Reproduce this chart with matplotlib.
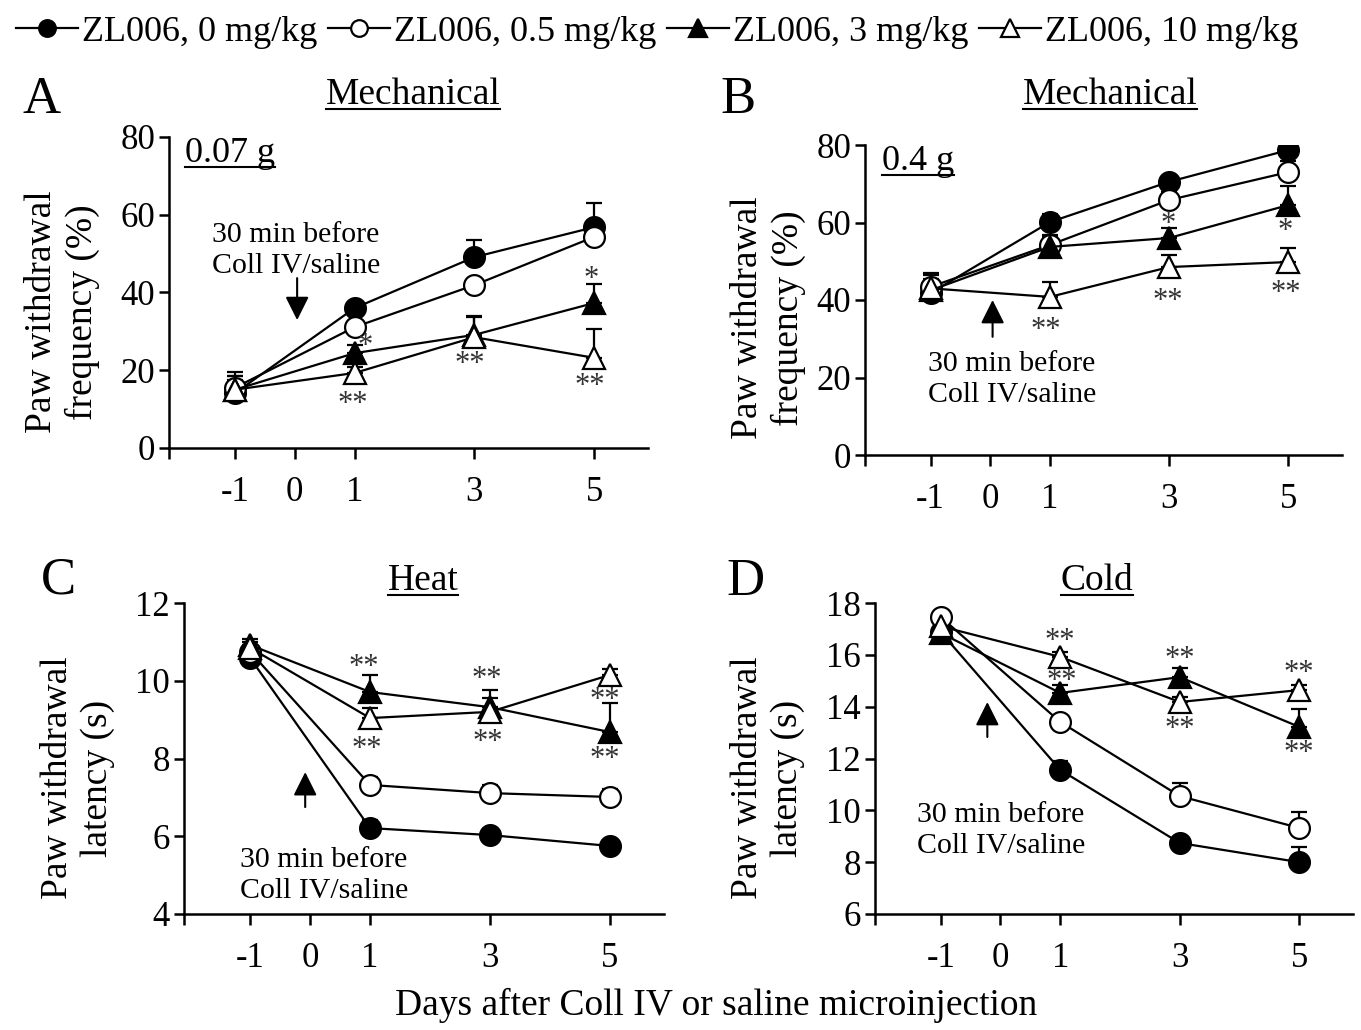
import matplotlib
matplotlib.use('Agg')
import matplotlib.pyplot as plt
from matplotlib.lines import Line2D

plt.rcParams['font.family'] = ['Liberation Serif', 'DejaVu Serif']

W, H = 1361, 1030

# ---------------- data ----------------
days = [-1, 1, 3, 5]
group_labels = ['ZL006, 0 mg/kg', 'ZL006, 0.5 mg/kg', 'ZL006, 3 mg/kg', 'ZL006, 10 mg/kg']
xtick_vals = [-1, 0, 1, 3, 5]
xtick_labels = ['-1', '0', '1', '3', '5']

# Panel A: Mechanical 0.07 g (%)
a_0 = [14.1, 36.0, 49.1, 56.8]
a_05 = [15.5, 31.1, 41.9, 54.3]
a_3 = [15.0, 24.4, 29.1, 37.3]
a_10 = [15.0, 19.3, 28.5, 23.2]
a_0_err = [3.5, 1.5, 4.4, 6.2]
a_05_err = [3.0, 1.5, 1.5, 1.5]
a_3_err = [3.5, 2.0, 4.5, 5.0]
a_10_err = [4.5, 1.5, 5.5, 7.4]

# Panel B: Mechanical 0.4 g (%)
b_0 = [41.8, 60.1, 70.5, 78.7]
b_05 = [43.4, 54.2, 65.8, 73.0]
b_3 = [42.5, 53.7, 56.0, 64.5]
b_10 = [43.0, 40.8, 48.5, 49.8]
b_0_err = [2.0, 2.0, 1.5, 2.0]
b_05_err = [3.0, 2.5, 2.0, 3.0]
b_3_err = [3.0, 2.5, 2.6, 5.0]
b_10_err = [4.0, 3.8, 3.0, 3.5]

# Panel C: Heat latency (s)
c_0 = [10.59, 6.21, 6.03, 5.75]
c_05 = [10.75, 7.32, 7.11, 7.01]
c_3 = [10.92, 9.71, 9.32, 8.68]
c_10 = [10.85, 9.04, 9.20, 10.15]
c_0_err = [0.15, 0.2, 0.15, 0.1]
c_05_err = [0.15, 0.2, 0.2, 0.2]
c_3_err = [0.15, 0.45, 0.45, 0.75]
c_10_err = [0.15, 0.25, 0.35, 0.15]

# Panel D: Cold latency (s)
d_0 = [16.88, 11.56, 8.74, 8.00]
d_05 = [17.46, 13.41, 10.55, 9.32]
d_3 = [16.84, 14.53, 15.14, 13.22]
d_10 = [17.10, 15.92, 14.18, 14.64]
d_0_err = [0.2, 0.35, 0.15, 0.6]
d_05_err = [0.2, 0.2, 0.5, 0.6]
d_3_err = [0.2, 0.3, 0.35, 0.7]
d_10_err = [0.2, 0.2, 0.2, 0.2]

# significance marks (day, y, text)
a_stars = [(1.18, 27.8, '*'), (0.97, 12.9, '**'), (2.92, 23.2, '**'), (4.95, 45.0, '*'), (4.93, 17.5, '**')]
b_stars = [(0.93, 34.0, '**'), (2.99, 61.2, '*'), (2.98, 41.3, '**'), (4.95, 59.4, '*'), (4.95, 43.4, '**')]
c_stars = [(0.89, 10.53, '**'), (0.94, 8.42, '**'), (2.94, 10.2, '**'), (2.96, 8.6, '**'), (4.92, 9.68, '**'), (4.92, 8.14, '**')]
d_stars = [(1.0, 16.77, '**'), (1.02, 15.22, '**'), (3.0, 16.07, '**'), (3.0, 13.37, '**'), (5.0, 15.53, '**'), (5.0, 12.44, '**')]

# ---------------- styling ----------------
styles = [
    dict(marker='o', mfc='black', mec='black', ms=15),
    dict(marker='o', mfc='white', mec='black', ms=15),
    dict(marker='^', mfc='black', mec='black', ms=16),
    dict(marker='^', mfc='white', mec='black', ms=16),
]

TICK_FS = 25
LABEL_FS = 27
NOTE_FS = 21.5
STAR_FS = 22

fig = plt.figure(figsize=(W / 100, H / 100), dpi=100)


def px_rect(x0, x1, ytop, ybot):
    return [x0 / W, 1 - ybot / H, (x1 - x0) / W, (ybot - ytop) / H]


def setup_axis(ax, ylim, yticks):
    ax.set_xlim(-2.1, 5.9)
    ax.set_ylim(*ylim)
    for s in ['top', 'right']:
        ax.spines[s].set_visible(False)
    for s in ['left', 'bottom']:
        ax.spines[s].set_linewidth(1.8)
    ax.set_xticks([-2.1] + xtick_vals)
    ax.set_xticklabels([''] + xtick_labels)
    ax.set_yticks(yticks)
    ax.set_yticklabels([str(v) for v in yticks])
    ax.tick_params(axis='x', direction='out', length=8, width=1.8, pad=12, labelsize=TICK_FS)
    ax.tick_params(axis='y', direction='out', length=7, width=1.8, pad=3, labelsize=TICK_FS)
    ax.patch.set_visible(False)


def draw_series(ax, series, errs):
    for vals, err, st in zip(series, errs, styles):
        ax.errorbar(days, vals, yerr=[[0] * len(err), err], color='black', lw=1.6,
                    elinewidth=1.6, capsize=6, capthick=1.6, mew=1.6, zorder=3, **st)


def draw_stars(ax, stars):
    for x, y, t in stars:
        ax.annotate(t, xy=(x, y), xytext=(0, -0.47 * STAR_FS), textcoords='offset points',
                    ha='center', va='baseline', fontsize=STAR_FS, color='#333333', zorder=5)


def draw_arrow(ax, x, y_tail, y_tip):
    ax.annotate('', xy=(x, y_tip), xytext=(x, y_tail),
                arrowprops=dict(arrowstyle='-|>,head_length=0.72,head_width=0.36',
                                mutation_scale=20, color='black', lw=1.5,
                                shrinkA=0, shrinkB=0), zorder=4)


axA = fig.add_axes(px_rect(169, 648, 137, 448))
axB = fig.add_axes(px_rect(865, 1342, 145, 455))
axC = fig.add_axes(px_rect(184, 664, 603, 914))
axD = fig.add_axes(px_rect(875, 1353, 603, 914))

setup_axis(axA, (0, 80), [0, 20, 40, 60, 80])
setup_axis(axB, (0, 80), [0, 20, 40, 60, 80])
setup_axis(axC, (4, 12), [4, 6, 8, 10, 12])
setup_axis(axD, (6, 18), [6, 8, 10, 12, 14, 16, 18])

draw_series(axA, [a_0, a_05, a_3, a_10], [a_0_err, a_05_err, a_3_err, a_10_err])
draw_series(axB, [b_0, b_05, b_3, b_10], [b_0_err, b_05_err, b_3_err, b_10_err])
draw_series(axC, [c_0, c_05, c_3, c_10], [c_0_err, c_05_err, c_3_err, c_10_err])
draw_series(axD, [d_0, d_05, d_3, d_10], [d_0_err, d_05_err, d_3_err, d_10_err])

draw_stars(axA, a_stars)
draw_stars(axB, b_stars)
draw_stars(axC, c_stars)
draw_stars(axD, d_stars)

draw_arrow(axA, 0.04, 43.7, 32.9)
draw_arrow(axB, 0.04, 30.5, 40.0)
draw_arrow(axC, -0.08, 6.75, 7.65)
draw_arrow(axD, -0.22, 12.83, 14.18)

note = '30 min before\nColl IV/saline'
axA.text(-1.39, 50.9, note, ha='left', va='center', fontsize=NOTE_FS, linespacing=1.25, zorder=6)
axB.text(-1.05, 19.6, note, ha='left', va='center', fontsize=NOTE_FS, linespacing=1.25, zorder=6)
axC.text(-1.17, 4.99, note, ha='left', va='center', fontsize=NOTE_FS, linespacing=1.25, zorder=6)
axD.text(-1.39, 9.24, note, ha='left', va='center', fontsize=NOTE_FS, linespacing=1.25, zorder=6)

underlined = []


def ftext(xpx, ypx, s, **kw):
    return fig.text(xpx / W, 1 - ypx / H, s, **kw)


# force-strength labels (baseline placed)
underlined.append((ftext(185, 162, '0.07 g', ha='left', va='baseline', fontsize=26), 162))
underlined.append((ftext(882, 170, '0.4 g', ha='left', va='baseline', fontsize=26), 170))

# panel titles
underlined.append((ftext(413, 104, 'Mechanical', ha='center', va='baseline', fontsize=LABEL_FS), 104))
underlined.append((ftext(1110, 104, 'Mechanical', ha='center', va='baseline', fontsize=LABEL_FS), 104))
underlined.append((ftext(423, 590, 'Heat', ha='center', va='baseline', fontsize=LABEL_FS), 590))
underlined.append((ftext(1097, 590, 'Cold', ha='center', va='baseline', fontsize=LABEL_FS), 590))

# panel letters
ftext(42, 100, 'A', ha='center', va='center', fontsize=38)
ftext(738, 100, 'B', ha='center', va='center', fontsize=38)
ftext(58, 580, 'C', ha='center', va='center', fontsize=38)
ftext(745, 582, 'D', ha='center', va='center', fontsize=38)

# y labels
ftext(62, 312, 'Paw withdrawal\nfrequency (%)', ha='center', va='center', rotation=90,
      fontsize=LABEL_FS, multialignment='center', linespacing=1.2)
ftext(768, 318, 'Paw withdrawal\nfrequency (%)', ha='center', va='center', rotation=90,
      fontsize=LABEL_FS, multialignment='center', linespacing=1.2)
ftext(78, 778, 'Paw withdrawal\nlatency (s)', ha='center', va='center', rotation=90,
      fontsize=LABEL_FS, multialignment='center', linespacing=1.2)
ftext(768, 778, 'Paw withdrawal\nlatency (s)', ha='center', va='center', rotation=90,
      fontsize=LABEL_FS, multialignment='center', linespacing=1.2)

# common x label
ftext(716, 1005, 'Days after Coll IV or saline microinjection', ha='center', va='center', fontsize=LABEL_FS)

# legend
leg_handles = [Line2D([0], [0], color='black', lw=1.6, mew=1.6,
                      **dict(st, ms=st['ms'] - 3)) for st in styles]
fig.legend(leg_handles, group_labels, loc='center', bbox_to_anchor=(0.483, 1 - 32 / H),
           ncol=4, frameon=False, fontsize=26, handlelength=1.7, handletextpad=0.12,
           columnspacing=0.3, borderpad=0, borderaxespad=0, numpoints=1)

# underline helper
fig.canvas.draw()
renderer = fig.canvas.get_renderer()
for t, base in underlined:
    bb = t.get_window_extent(renderer)
    yline = 1 - (base + 5) / H
    fig.add_artist(Line2D([bb.x0 / W, bb.x1 / W], [yline, yline], transform=fig.transFigure,
                          color='black', lw=1.5))

fig.savefig('out.png', dpi=100)
